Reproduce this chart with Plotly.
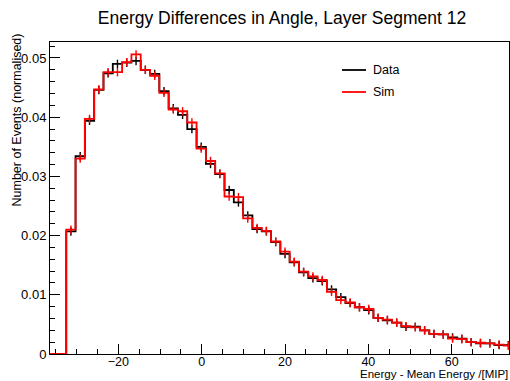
import numpy as np
import plotly.graph_objects as go

# ---------------- data ----------------
bin_low = -32.5          # lower edge of first filled bin
bin_width = 2.234        # bin width
x_axis_min = -36.4
x_axis_max = 73.76

data_values = [0.0207, 0.0334, 0.0394, 0.0446, 0.0474, 0.0490, 0.0492, 0.0495,
               0.0480, 0.0473, 0.0444, 0.0415, 0.0404, 0.0380, 0.0350, 0.0321,
               0.0304, 0.0277, 0.0256, 0.0234, 0.0211, 0.0207, 0.0189, 0.0169,
               0.0155, 0.0138, 0.0128, 0.0123, 0.0109, 0.0096, 0.0086, 0.0079,
               0.0074, 0.0061, 0.0057, 0.0053, 0.0046, 0.0046, 0.0040, 0.0034,
               0.0033, 0.0028, 0.0026, 0.0020, 0.0018, 0.0018, 0.0015, 0.0015]

sim_values = [0.0210, 0.0330, 0.0397, 0.0447, 0.0476, 0.0476, 0.0493, 0.0506,
              0.0480, 0.0470, 0.0441, 0.0413, 0.0410, 0.0391, 0.0347, 0.0326,
              0.0305, 0.0266, 0.0265, 0.0229, 0.0213, 0.0208, 0.0190, 0.0173,
              0.0156, 0.0139, 0.0131, 0.0125, 0.0105, 0.0091, 0.0087, 0.0079,
              0.0076, 0.0061, 0.0058, 0.0053, 0.0047, 0.0045, 0.0040, 0.0034,
              0.0033, 0.0026, 0.0025, 0.0020, 0.0019, 0.0018, 0.0016, 0.0014]

series_names = ["Data", "Sim"]
series_colors = ["#000000", "#ff0000"]

# ---------------- build ----------------
n = len(data_values)
edges = bin_low + bin_width * np.arange(n + 1)
centers = 0.5 * (edges[:-1] + edges[1:])

fig = go.Figure()

FONT = "Liberation Sans, Arial, sans-serif"

for name, vals, col in zip(series_names, [data_values, sim_values], series_colors):
    xs = [x_axis_min] + list(edges[:-1]) + [edges[-1]]
    ys = [0.0] + list(vals) + [vals[-1]]
    fig.add_trace(go.Scatter(x=xs, y=ys, mode="lines", line_shape="hv",
                             line=dict(color=col, width=1.8), showlegend=False,
                             hoverinfo="skip"))
    fig.add_trace(go.Scatter(x=centers, y=vals, mode="markers",
                             marker=dict(symbol="line-ns-open", size=6, color=col,
                                         line=dict(color=col, width=1.4)),
                             showlegend=False, name=name))

# manual legend (ROOT-like)
leg_y = [70, 92]
for name, col, yp in zip(series_names, series_colors, leg_y):
    yy = (354 - yp) / 312
    fig.add_shape(type="line", xref="paper", yref="paper",
                  x0=(342 - 50) / 459, x1=(366 - 50) / 459, y0=yy, y1=yy,
                  line=dict(color=col, width=1.8))
    fig.add_annotation(text=name, xref="paper", yref="paper",
                       x=(371 - 50) / 459, y=yy, xanchor="left", yanchor="middle",
                       showarrow=False, font=dict(family=FONT, size=12.5, color="#000"))

fig.update_layout(
    width=510, height=381,
    margin=dict(l=50, r=1, t=42, b=27),
    paper_bgcolor="white", plot_bgcolor="white",
    font=dict(family=FONT, size=13, color="#000"),
    title=dict(text="Energy Differences in Angle, Layer Segment 12",
               x=(282) / 510, xanchor="center", y=1 - 18 / 381, yanchor="middle",
               font=dict(family=FONT, size=17.5, color="#000")),
    showlegend=False,
)

fig.update_xaxes(range=[x_axis_min, x_axis_max], dtick=20, tick0=0,
                 ticks="inside", ticklen=10, tickwidth=1, tickcolor="#000",
                 minor=dict(dtick=5, ticks="inside", ticklen=5, tickcolor="#000", tickwidth=1),
                 showline=True, linecolor="#000", linewidth=1, mirror=True,
                 showgrid=False, zeroline=False, ticklabelstandoff=-4,
                 tickfont=dict(family=FONT, size=12.5))
fig.update_yaxes(range=[0, 0.0527], dtick=0.01, tick0=0,
                 ticks="inside", ticklen=10, tickwidth=1, tickcolor="#000",
                 minor=dict(dtick=0.002, ticks="inside", ticklen=5, tickcolor="#000", tickwidth=1),
                 showline=True, linecolor="#000", linewidth=1, mirror=True,
                 showgrid=False, zeroline=False,
                 tickfont=dict(family=FONT, size=13))

# axis titles (ROOT aligns them to the axis end)
fig.add_annotation(text="Energy - Mean Energy /[MIP]", xref="paper", yref="paper",
                   x=1.0, y=-(381 - 354) / 312, xanchor="right", yanchor="bottom",
                   showarrow=False, borderpad=0,
                   font=dict(family=FONT, size=11.5, color="#000"))
fig.add_annotation(text="Number of Events (normalised)", xref="paper", yref="paper",
                   x=-(50 - 17) / 459, y=(354 - 32) / 312, xanchor="center", yanchor="top",
                   textangle=-90, showarrow=False,
                   font=dict(family=FONT, size=12.5, color="#000"))

fig.write_html("out.html", config={"displayModeBar": False},
               post_script="document.body.style.margin='0';")
